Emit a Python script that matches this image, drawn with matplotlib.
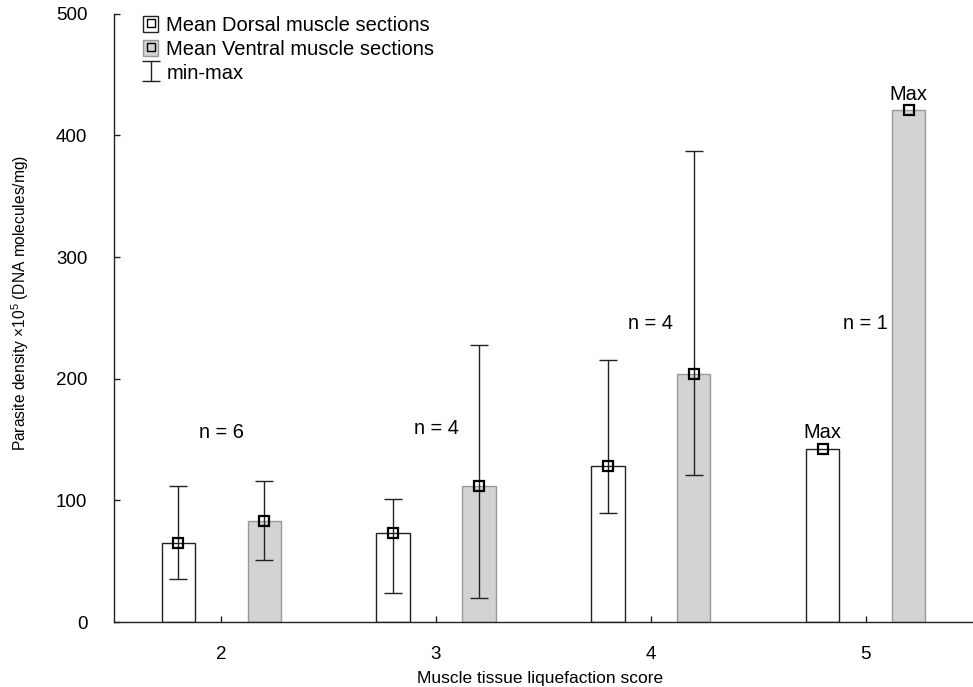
import matplotlib.pyplot as plt
from matplotlib.patches import Patch
from matplotlib.lines import Line2D
import numpy as np

plt.rcParams["font.family"] = ["Liberation Sans", "DejaVu Sans"]
plt.rcParams["mathtext.fontset"] = "custom"
plt.rcParams["mathtext.rm"] = "Liberation Sans"
plt.rcParams["mathtext.it"] = "Liberation Sans:italic"
plt.rcParams["mathtext.default"] = "regular"

# data
scores = [2, 3, 4, 5]
n_counts = [6, 4, 4, 1]

dorsal_mean = [65, 73, 128, 142]
dorsal_min = [35, 24, 90, np.nan]
dorsal_max = [112, 101, 215, np.nan]

ventral_mean = [83, 112, 204, 421]
ventral_min = [51, 20, 121, np.nan]
ventral_max = [116, 228, 387, np.nan]


def main():
    fig = plt.figure(figsize=(9.73, 6.87), dpi=100)
    ax = fig.add_axes([0.117, 0.0946, 0.883, 0.8854])

    x = np.array(scores, dtype=float)
    offset, width = 0.2, 0.155
    xd, xv = x - offset, x + offset

    ax.bar(xd, dorsal_mean, width, color="white", edgecolor="#222222",
           linewidth=1.0, zorder=1)
    ax.bar(xv, ventral_mean, width, color="#d3d3d3", edgecolor="#999999",
           linewidth=1.0, zorder=1)

    # min-max whiskers
    for xs, mean, lo, hi in [(xd, dorsal_mean, dorsal_min, dorsal_max),
                             (xv, ventral_mean, ventral_min, ventral_max)]:
        mean, lo, hi = map(np.asarray, (mean, lo, hi))
        ok = ~np.isnan(lo)
        err = [mean[ok] - lo[ok], hi[ok] - mean[ok]]
        eb = ax.errorbar(xs[ok], mean[ok], yerr=err, fmt="none",
                         ecolor="#222222", elinewidth=1.0, capsize=6.5,
                         capthick=1.0, zorder=2)

    # mean markers
    for xs, mean in [(xd, dorsal_mean), (xv, ventral_mean)]:
        ax.plot(xs, mean, ls="none", marker="s", ms=7.5, mfc="none",
                mec="black", mew=1.6, zorder=3)

    # annotations
    n_label_y = [156, 159, 245, 245]
    for xi, n, yi in zip(x, n_counts, n_label_y):
        ax.text(xi, yi, f"n = {n}", ha="center", va="center", fontsize=14.4)
    ax.text(xd[-1], dorsal_mean[-1] + 6, "Max", ha="center", va="bottom",
            fontsize=14.4)
    ax.text(xv[-1], ventral_mean[-1] + 5, "Max", ha="center", va="bottom",
            fontsize=14.4)

    ax.set_xlim(1.5, 5.5)
    ax.set_ylim(0, 500)
    ax.set_xticks(scores)
    ax.set_yticks([0, 100, 200, 300, 400, 500])
    ax.tick_params(axis="both", direction="in", length=4, width=1,
                   color="#222222", labelsize=13.5)
    ax.tick_params(axis="x", pad=17)
    ax.tick_params(axis="y", pad=19)
    for side in ["top", "right"]:
        ax.spines[side].set_visible(False)
    for side in ["left", "bottom"]:
        ax.spines[side].set_color("#222222")
        ax.spines[side].set_linewidth(1.0)

    ax.set_xlabel("Muscle tissue liquefaction score", fontsize=12.5)
    ax.set_ylabel("Parasite density \u00d710$^{5}$ (DNA molecules/mg)",
                  fontsize=11.2)
    ax.xaxis.set_label_coords(0.496, -0.081)
    ax.yaxis.set_label_coords(-0.097, 0.525)

    # legend
    h_dorsal = (Patch(facecolor="white", edgecolor="#222222", linewidth=1.0),
                Line2D([], [], ls="none", marker="s", ms=6, mfc="none",
                       mec="black", mew=1.0))
    h_ventral = (Patch(facecolor="#d3d3d3", edgecolor="#999999",
                       linewidth=1.0),
                 Line2D([], [], ls="none", marker="s", ms=6, mfc="none",
                        mec="black", mew=1.0))
    ax.legend([h_dorsal, h_ventral, eb],
              ["Mean Dorsal muscle sections", "Mean Ventral muscle sections",
               "min-max"],
              loc="upper left", bbox_to_anchor=(0.034, 0.997), frameon=False,
              fontsize=14.5, handlelength=0.75, handleheight=0.85,
              handletextpad=0.4, labelspacing=0.25, borderpad=0,
              borderaxespad=0)

    fig.savefig("out.png", dpi=100)


if __name__ == "__main__":
    main()
